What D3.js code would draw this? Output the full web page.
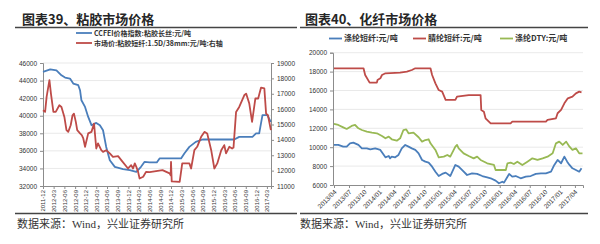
<!DOCTYPE html>
<html>
<head>
<meta charset="utf-8">
<script src="https://cdn.jsdelivr.net/npm/d3@7"></script>
<style>
  body { margin: 0; background: #FFFFFF; }
  text { font-family: "Liberation Sans", Arial, sans-serif; }
</style>
</head>
<body>
<svg id="chart"></svg>
<script>
//--Data
// 图表39: CCFEI价格指数:粘胶长丝 (left axis) and 粘胶短纤 (right axis)
const viscoseFilament = [
  ["2011-12-01", 44980], ["2012-02-01", 45280], ["2012-03-25", 45170], ["2012-05-07", 44600],
  ["2012-06-07", 44340], ["2012-07-19", 44230], ["2012-08-16", 43660], ["2012-09-28", 43470],
  ["2012-10-13", 42900], ["2012-10-25", 41760], ["2012-11-25", 41000], ["2012-12-22", 39860],
  ["2013-01-19", 38920], ["2013-03-01", 39180], ["2013-04-01", 38920], ["2013-04-28", 38350],
  ["2013-05-25", 36450], ["2013-06-25", 34940], ["2013-08-07", 34180], ["2013-10-16", 33920],
  ["2013-12-13", 33810], ["2014-02-07", 33610], ["2014-03-19", 34180], ["2014-04-19", 34750],
  ["2014-06-01", 34700], ["2014-08-01", 34680], ["2014-08-25", 35140], ["2015-02-25", 35140],
  ["2015-03-25", 35700], ["2015-05-07", 36450], ["2015-07-01", 37020], ["2015-08-28", 37290],
  ["2016-05-25", 37290], ["2016-07-07", 37590], ["2016-10-28", 37590], ["2016-11-28", 37980],
  ["2016-12-25", 37980], ["2017-01-22", 40060], ["2017-03-04", 40060], ["2017-04-04", 39300]
];
const viscoseStaple = [
  ["2011-12-01", 15930], ["2011-12-19", 15820], ["2012-01-01", 16800], ["2012-01-25", 17880],
  ["2012-02-07", 17010], ["2012-02-28", 15820], ["2012-03-19", 15820], ["2012-04-19", 16250],
  ["2012-05-07", 16140], ["2012-06-01", 15490], ["2012-06-19", 14630], ["2012-07-04", 14520],
  ["2012-07-25", 14950], ["2012-08-10", 15600], ["2012-08-22", 15710], ["2012-09-07", 15170],
  ["2012-09-19", 14630], ["2012-10-13", 14420], ["2012-10-28", 14310], ["2012-11-10", 14090],
  ["2012-11-25", 13550], ["2012-12-22", 14420], ["2013-01-19", 14520], ["2013-02-10", 15060],
  ["2013-03-01", 13440], ["2013-03-16", 13770], ["2013-04-13", 13330], ["2013-04-28", 13220],
  ["2013-05-25", 13330], ["2013-06-25", 13120], ["2013-07-22", 12900], ["2013-09-04", 12940],
  ["2013-10-01", 12680], ["2013-11-28", 12140], ["2013-12-25", 12360], ["2014-01-10", 12140],
  ["2014-01-25", 12470], ["2014-02-07", 12250], ["2014-02-22", 11920], ["2014-03-07", 11490],
  ["2014-04-07", 11600], ["2014-05-01", 11920], ["2014-06-01", 11900], ["2014-09-19", 12030],
  ["2014-11-19", 11820], ["2014-11-28", 11700], ["2014-12-01", 12570], ["2014-12-07", 11300],
  ["2015-02-13", 11270], ["2015-03-07", 12470], ["2015-05-07", 12470], ["2015-05-22", 12140],
  ["2015-06-19", 13330], ["2015-07-13", 13550], ["2015-08-16", 14200], ["2015-09-13", 14520],
  ["2015-10-07", 14420], ["2015-11-10", 13330], ["2015-12-07", 12140], ["2016-01-01", 12470],
  ["2016-02-04", 13330], ["2016-03-01", 13660], ["2016-03-16", 13120], ["2016-04-13", 13550],
  ["2016-05-07", 13440], ["2016-05-19", 13500], ["2016-06-10", 15820], ["2016-07-07", 16140],
  ["2016-08-19", 16900], ["2016-09-04", 17010], ["2016-10-01", 16360], ["2016-10-25", 15170],
  ["2016-11-22", 16690], ["2016-12-16", 16690], ["2017-01-10", 17400], ["2017-02-07", 17350],
  ["2017-02-22", 15710], ["2017-03-10", 15600], ["2017-04-04", 14630]
];
const leftXTicks = ["2011-12", "2012-03", "2012-06", "2012-09", "2012-12", "2013-03", "2013-06",
  "2013-09", "2013-12", "2014-03", "2014-06", "2014-09", "2014-12", "2015-03", "2015-06",
  "2015-09", "2015-12", "2016-03", "2016-06", "2016-09", "2016-12", "2017-03"];
const leftYTicks = [32000, 34000, 36000, 38000, 40000, 42000, 44000, 46000];
const leftY2Ticks = [11000, 12000, 13000, 14000, 15000, 16000, 17000, 18000, 19000];
const leftLegend = ["CCFEI价格指数:粘胶长丝:元/吨", "市场价:粘胶短纤:1.5D/38mm:元/吨:右轴"];

// 图表40: 涤纶短纤, 腈纶短纤, 涤纶DTY
const polyesterStaple = [
  ["2013-04-01", 10240], ["2013-04-27", 10240], ["2013-05-27", 10060], ["2013-06-17", 10060],
  ["2013-07-07", 10410], ["2013-07-27", 10480], ["2013-08-27", 10240], ["2013-09-17", 9880],
  ["2013-10-17", 9880], ["2013-11-07", 9780], ["2013-12-07", 9880], ["2014-01-07", 9710],
  ["2014-02-07", 8930], ["2014-02-27", 9070], ["2014-03-07", 8820], ["2014-03-17", 9000],
  ["2014-04-07", 8930], ["2014-04-27", 9180], ["2014-05-17", 9880], ["2014-06-07", 10240],
  ["2014-06-27", 10060], ["2014-07-17", 9880], ["2014-08-07", 9710], ["2014-08-27", 9350],
  ["2014-09-17", 8650], ["2014-10-07", 8470], ["2014-10-27", 8370], ["2014-11-17", 7940],
  ["2014-12-07", 7410], ["2014-12-27", 6950], ["2015-01-17", 7170], ["2015-02-07", 7310],
  ["2015-02-27", 7060], ["2015-03-07", 6950], ["2015-04-07", 8120], ["2015-04-27", 7940],
  ["2015-05-17", 7590], ["2015-06-17", 7060], ["2015-07-17", 7240], ["2015-08-17", 7170],
  ["2015-09-17", 6950], ["2015-10-17", 6810], ["2015-11-07", 6710], ["2015-12-07", 6460],
  ["2015-12-27", 6180], ["2016-01-17", 6350], ["2016-01-27", 6250], ["2016-02-17", 6880],
  ["2016-02-27", 7170], ["2016-03-17", 6880], ["2016-04-07", 6950], ["2016-05-07", 6710],
  ["2016-06-07", 6880], ["2016-07-07", 6950], ["2016-08-07", 7170], ["2016-09-07", 7240],
  ["2016-10-07", 7240], ["2016-11-07", 7410], ["2016-11-27", 8120], ["2016-12-17", 8650],
  ["2017-01-07", 8300], ["2017-01-27", 9000], ["2017-02-13", 8470], ["2017-02-27", 8120],
  ["2017-03-17", 7770], ["2017-04-07", 7590], ["2017-04-27", 7410], ["2017-05-11", 7770]
];
const acrylicStaple = [
  ["2013-04-01", 18350], ["2013-09-27", 18350], ["2013-10-07", 17640], ["2013-11-03", 16830],
  ["2013-12-17", 16830], ["2013-12-21", 17110], ["2014-01-07", 17290], ["2014-01-17", 17640],
  ["2014-02-07", 17820], ["2014-05-07", 17890], ["2014-06-17", 17990], ["2014-07-17", 18170],
  ["2014-08-07", 18350], ["2014-11-07", 18350], ["2014-11-17", 17640], ["2014-12-07", 16760],
  ["2014-12-27", 16050], ["2015-01-17", 15880], ["2015-02-07", 15000], ["2015-04-07", 15000],
  ["2015-04-17", 15350], ["2015-06-27", 15520], ["2015-09-07", 15520], ["2015-09-11", 13940],
  ["2015-09-27", 13760], ["2015-10-07", 13060], ["2015-11-07", 12530], ["2016-03-07", 12530],
  ["2016-03-17", 12700], ["2016-10-07", 12700], ["2016-10-17", 12880], ["2016-12-07", 13060],
  ["2016-12-17", 13590], ["2017-01-07", 13940], ["2017-01-27", 14640], ["2017-02-17", 15170],
  ["2017-03-17", 15350], ["2017-04-07", 15700], ["2017-04-27", 15880], ["2017-05-11", 15800]
];
const polyesterDTY = [
  ["2013-04-01", 12460], ["2013-04-27", 12350], ["2013-05-27", 12100], ["2013-06-17", 11930],
  ["2013-07-17", 12250], ["2013-08-07", 12350], ["2013-08-27", 12000], ["2013-09-17", 11820],
  ["2013-10-17", 11650], ["2013-11-17", 11540], ["2013-12-17", 11470], ["2014-01-17", 11190],
  ["2014-02-07", 10940], ["2014-02-27", 11120], ["2014-03-17", 10840], ["2014-04-17", 10690],
  ["2014-05-07", 10940], ["2014-05-27", 11820], ["2014-06-13", 11890], ["2014-06-27", 11470],
  ["2014-07-27", 11540], ["2014-08-27", 11050], ["2014-09-17", 10590], ["2014-10-07", 10760],
  ["2014-10-27", 10840], ["2014-11-07", 10410], ["2014-12-07", 9710], ["2014-12-27", 8930],
  ["2015-01-27", 9000], ["2015-02-17", 9180], ["2015-03-07", 9000], ["2015-04-07", 10060],
  ["2015-04-17", 10240], ["2015-04-27", 9880], ["2015-05-27", 9350], ["2015-06-27", 9070],
  ["2015-07-27", 8820], ["2015-08-17", 9000], ["2015-09-07", 8650], ["2015-10-17", 8300],
  ["2015-11-27", 8120], ["2015-12-07", 7590], ["2016-02-07", 7590], ["2016-02-17", 8300],
  ["2016-03-07", 8370], ["2016-03-27", 8220], ["2016-04-17", 8470], ["2016-05-17", 8120],
  ["2016-06-17", 8470], ["2016-07-17", 8820], ["2016-08-17", 8650], ["2016-09-17", 8820],
  ["2016-10-17", 9000], ["2016-11-17", 9350], ["2016-12-07", 10410], ["2016-12-27", 10590],
  ["2017-01-17", 10240], ["2017-02-07", 10590], ["2017-02-27", 10060], ["2017-03-17", 9710],
  ["2017-04-07", 9880], ["2017-04-27", 9350], ["2017-05-17", 9350]
];
const rightXTicks = ["2013/04", "2013/07", "2013/10", "2014/01", "2014/04", "2014/07", "2014/10",
  "2015/01", "2015/04", "2015/07", "2015/10", "2016/01", "2016/04", "2016/07", "2016/10",
  "2017/01", "2017/04"];
const rightYTicks = [6000, 8000, 10000, 12000, 14000, 16000, 18000, 20000];
const rightLegend = ["涤纶短纤:元/吨", "腈纶短纤:元/吨", "涤纶DTY:元/吨"];

const titles = ["图表39、粘胶市场价格", "图表40、化纤市场价格"];
const sourceNote = "数据来源：Wind，兴业证券研究所";

//--Shared info
const canvas = {
  width: 600,
  height: 244,
  blue: "#4A7EBB",
  red: "#BE4B48",
  green: "#98B954",
  axis: "#8C8C8C",
  grid: "#E3E3E3",
  cjk: "'Noto Sans CJK SC', sans-serif",
  serif: "'Liberation Serif', 'Noto Sans CJK SC', serif"
};
const parseDay = d3.timeParse("%Y-%m-%d");
const parseLeftTick = d3.timeParse("%Y-%m");
const parseRightTick = d3.timeParse("%Y/%m");

let root = d3.select("#chart")
  .attr("width", canvas.width)
  .attr("height", canvas.height)
  .style("background-color", "#FFFFFF");

//--Headers and footers
[[22, 15, 297, titles[0]], [305, 300, 588, titles[1]]].forEach(([tx, lx0, lx1, t]) => {
  root.append("text")
    .attr("x", tx).attr("y", 23.5)
    .style("font-family", canvas.cjk)
    .style("font-size", "13px")
    .style("font-weight", "bold")
    .attr("fill", "#262626")
    .text(t);
  root.append("line")
    .attr("x1", lx0).attr("x2", lx1).attr("y1", 27.5).attr("y2", 27.5)
    .attr("stroke", "#444").attr("stroke-width", 1.4);
  root.append("line")
    .attr("x1", lx0).attr("x2", lx1).attr("y1", 213.5).attr("y2", 213.5)
    .attr("stroke", "#444").attr("stroke-width", 1.4);
  root.append("text")
    .attr("x", tx - 5).attr("y", 228)
    .style("font-family", canvas.serif)
    .style("font-size", "11px")
    .attr("fill", "#333")
    .text(sourceNote);
});

function styleAxis(g) {
  g.select(".domain").attr("stroke", canvas.axis);
  g.selectAll(".tick line").attr("stroke", canvas.axis);
  g.selectAll(".tick text").attr("fill", "#333").style("font-size", "6.5px");
}

function drawLine(data, x, y, color) {
  const line = d3.line()
    .x(d => x(parseDay(d[0])))
    .y(d => y(d[1]));
  root.append("path")
    .datum(data)
    .attr("fill", "none")
    .attr("stroke", color)
    .attr("stroke-width", 1.8)
    .attr("stroke-linejoin", "round")
    .attr("d", line);
}

//--Left chart: 粘胶
const left = { x0: 43, x1: 271, top: 63, bottom: 186 };
const xL = d3.scaleTime()
  .domain([parseDay("2011-12-01"), parseDay("2017-04-05")])
  .range([left.x0, left.x1]);
const yL = d3.scaleLinear().domain([32000, 46000]).range([left.bottom, left.top]);
const yR = d3.scaleLinear().domain([11000, 19000]).range([left.bottom, left.top]);

root.append("g")
  .selectAll("line")
  .data(leftYTicks.slice(1))
  .enter()
  .append("line")
  .attr("x1", left.x0).attr("x2", left.x1)
  .attr("y1", d => yL(d)).attr("y2", d => yL(d))
  .attr("stroke", canvas.grid).attr("stroke-width", 0.8);

root.append("g")
  .attr("transform", "translate(" + left.x0 + ",0)")
  .call(d3.axisLeft(yL).tickValues(leftYTicks).tickSize(3).tickPadding(3).tickFormat(d3.format("d")))
  .call(styleAxis);
root.append("g")
  .attr("transform", "translate(" + left.x1 + ",0)")
  .call(d3.axisRight(yR).tickValues(leftY2Ticks).tickSize(3).tickPadding(3).tickFormat(d3.format("d")))
  .call(styleAxis);
root.append("g")
  .attr("transform", "translate(0," + left.bottom + ")")
  .call(d3.axisBottom(xL).tickValues(leftXTicks.map(parseLeftTick)).tickSize(3).tickFormat(d3.timeFormat("%Y-%m")))
  .call(styleAxis)
  .call(g => g.selectAll(".tick text")
    .style("font-size", "6px")
    .attr("text-anchor", "end")
    .attr("dy", "0.32em")
    .attr("transform", "translate(0,4) rotate(-90)")
    .attr("x", 0).attr("y", 0));

drawLine(viscoseFilament, xL, yL, canvas.blue);
drawLine(viscoseStaple, xL, yR, canvas.red);

[[leftLegend[0], canvas.blue, 33], [leftLegend[1], canvas.red, 43]].forEach(([t, c, ly]) => {
  root.append("line")
    .attr("x1", 76).attr("x2", 92).attr("y1", ly).attr("y2", ly)
    .attr("stroke", c).attr("stroke-width", 1.8);
  root.append("text")
    .attr("x", 94).attr("y", ly + 2.5)
    .style("font-family", canvas.cjk)
    .style("font-size", "7px")
    .style("font-weight", "bold")
    .attr("fill", "#333")
    .text(t);
});

//--Right chart: 化纤
const right = { x0: 333, x1: 583, top: 52.7, bottom: 185 };
const xC = d3.scaleTime()
  .domain([parseDay("2013-04-01"), parseDay("2017-05-20")])
  .range([right.x0 + 1, right.x1]);
const yC = d3.scaleLinear().domain([6000, 20000]).range([right.bottom, right.top]);

root.append("g")
  .selectAll("line")
  .data(rightYTicks.slice(1))
  .enter()
  .append("line")
  .attr("x1", right.x0).attr("x2", right.x1)
  .attr("y1", d => yC(d)).attr("y2", d => yC(d))
  .attr("stroke", canvas.grid).attr("stroke-width", 0.8);

root.append("g")
  .attr("transform", "translate(" + right.x0 + ",0)")
  .call(d3.axisLeft(yC).tickValues(rightYTicks).tickSize(3).tickPadding(3).tickFormat(d3.format("d")))
  .call(styleAxis);
root.append("g")
  .attr("transform", "translate(0," + right.bottom + ")")
  .call(d3.axisBottom(xC).tickValues(rightXTicks.map(parseRightTick)).tickSize(3).tickFormat(d3.timeFormat("%Y/%m")))
  .call(styleAxis)
  .call(g => g.selectAll(".tick text")
    .style("font-size", "6.5px")
    .attr("text-anchor", "end")
    .attr("dy", "0.32em")
    .attr("transform", "translate(1,6) rotate(-45)")
    .attr("x", 0).attr("y", 0));

drawLine(acrylicStaple, xC, yC, canvas.red);
drawLine(polyesterDTY, xC, yC, canvas.green);
drawLine(polyesterStaple, xC, yC, canvas.blue);

[[rightLegend[0], canvas.blue, 329], [rightLegend[1], canvas.red, 413], [rightLegend[2], canvas.green, 500]].forEach(([t, c, lx]) => {
  root.append("line")
    .attr("x1", lx).attr("x2", lx + 13).attr("y1", 38.5).attr("y2", 38.5)
    .attr("stroke", c).attr("stroke-width", 1.8);
  root.append("text")
    .attr("x", lx + 15).attr("y", 41.3)
    .style("font-family", canvas.cjk)
    .style("font-size", "8px")
    .style("font-weight", "bold")
    .attr("fill", "#333")
    .text(t);
});
</script>
</body>
</html>
